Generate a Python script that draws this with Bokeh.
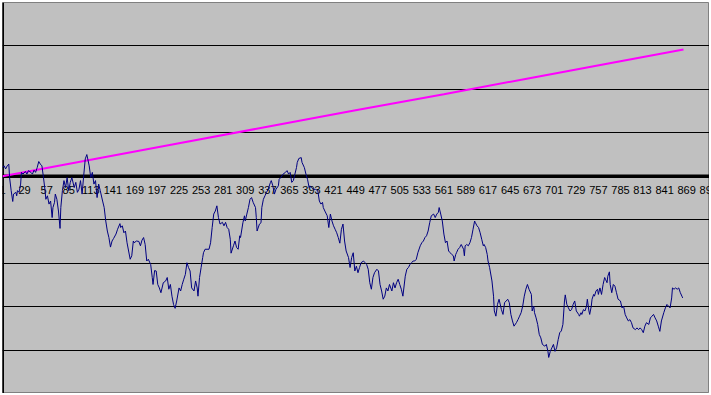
from bokeh.plotting import figure
from bokeh.models import Range1d, Span, FixedTicker
from bokeh.core.properties import value
from bokeh.embed import file_html
from bokeh.resources import INLINE

# Category axis tick labels (every 28th category)
tick_labels = ["1", "29", "57", "85", "113", "141", "169", "197", "225", "253", "281",
               "309", "337", "365", "393", "421", "449", "477", "505", "533", "561",
               "589", "617", "645", "673", "701", "729", "757", "785", "813", "841",
               "869", "897"]

# Magenta series (category index, value)
magenta_idx = [1, 113, 225, 337, 449, 561, 673, 785, 865]
magenta_val = [0.00, 0.38, 0.76, 1.14, 1.52, 1.89, 2.27, 2.65, 2.92]

# Navy series (category index, value)
navy_idx = [
    1, 3, 5, 7, 9, 10, 12, 14, 15, 18, 19, 20, 22, 24, 25, 27, 30, 32, 34, 37,
    39, 41, 43, 45, 47, 49, 51, 53, 55, 56, 58, 60, 62, 64, 65, 67, 68, 70, 72, 74,
    75, 77, 79, 81, 83, 85, 87, 89, 92, 94, 96, 98, 100, 102, 104, 106, 108, 111, 113, 115,
    117, 119, 121, 123, 125, 128, 130, 132, 134, 136, 138, 140, 142, 145, 147, 150, 151, 153, 155, 157,
    159, 161, 163, 165, 167, 168, 171, 174, 176, 178, 180, 182, 184, 186, 189, 191, 192, 194, 196, 198,
    200, 202, 205, 208, 210, 212, 214, 216, 218, 220, 222, 225, 227, 229, 231, 233, 235, 237, 239, 241,
    244, 246, 248, 249, 251, 253, 255, 256, 258, 263, 265, 267, 269, 271, 273, 275, 277, 280, 282, 284,
    286, 288, 290, 291, 294, 296, 298, 300, 302, 303, 306, 308, 309, 311, 313, 315, 317, 319, 322, 323,
    324, 327, 329, 330, 332, 334, 336, 338, 341, 342, 344, 346, 348, 351, 352, 354, 357, 360, 362, 364,
    366, 368, 370, 372, 374, 375, 377, 380, 381, 384, 386, 388, 390, 391, 393, 396, 398, 401, 403, 405,
    407, 408, 410, 413, 415, 417, 419, 421, 423, 425, 427, 429, 431, 433, 435, 437, 440, 442, 444, 446,
    448, 450, 452, 454, 456, 459, 461, 463, 465, 467, 469, 471, 473, 476, 478, 480, 482, 484, 486, 488,
    490, 492, 495, 497, 499, 501, 503, 505, 507, 509, 512, 514, 516, 518, 520, 522, 524, 526, 528, 531,
    533, 535, 537, 539, 541, 543, 545, 548, 550, 552, 554, 555, 557, 559, 561, 563, 565, 567, 569, 571,
    573, 574, 576, 577, 579, 581, 583, 586, 587, 588, 590, 592, 594, 596, 598, 600, 601, 603, 605, 607,
    609, 611, 612, 614, 616, 617, 619, 622, 624, 625, 627, 629, 631, 634, 636, 638, 640, 642, 644, 646,
    648, 650, 653, 655, 657, 659, 661, 663, 665, 667, 669, 672, 673, 675, 676, 678, 680, 682, 684, 686,
    689, 691, 693, 694, 696, 698, 700, 702, 704, 706, 708, 710, 712, 714, 715, 717, 719, 721, 723, 725,
    727, 729, 732, 733, 735, 736, 738, 740, 742, 743, 745, 746, 748, 749, 751, 752, 754, 756, 757, 759,
    761, 763, 765, 766, 768, 769, 771, 772, 774, 776, 778, 780, 782, 785, 787, 789, 791, 793, 795, 797,
    799, 801, 804, 806, 808, 810, 812, 814, 816, 818, 821, 823, 825, 827, 829, 831, 833, 835, 837, 840,
    842, 844, 846, 848, 850, 851, 853, 855, 857, 859, 861, 863, 864]
navy_val = [
    0.20, 0.24, 0.17, 0.24, 0.28, -0.03, -0.33, -0.58, -0.41, -0.37, -0.45, -0.33, -0.37, -0.18, 0.09, 0.05, 0.11, 0.05, 0.13, 0.09,
    0.05, 0.14, 0.09, 0.20, 0.34, 0.28, 0.24, -0.03, -0.33, -0.53, -0.45, -0.64, -0.57, -0.95, -0.72, -0.60, -0.41, -0.53, -0.80, -1.20,
    -0.72, -0.33, -0.10, -0.26, -0.03, -0.33, -0.14, -0.03, -0.26, -0.14, -0.37, -0.30, -0.10, -0.41, 0.01, 0.40, 0.50, 0.24, -0.03, 0.09,
    -0.18, -0.10, -0.49, -0.18, -0.33, -0.57, -0.72, -1.03, -1.26, -1.41, -1.63, -1.49, -1.43, -1.33, -1.22, -1.09, -1.18, -1.14, -1.30, -1.26,
    -1.53, -1.72, -1.91, -1.83, -1.49, -1.53, -1.49, -1.50, -1.60, -1.47, -1.41, -1.57, -1.95, -1.91, -2.03, -2.33, -2.49, -2.17, -2.18, -2.49,
    -2.57, -2.68, -2.45, -2.41, -2.33, -2.60, -2.49, -2.76, -2.95, -3.04, -2.87, -2.57, -2.64, -2.49, -2.37, -2.26, -1.99, -2.10, -2.18, -2.57,
    -2.64, -2.41, -2.57, -2.76, -2.33, -2.10, -1.87, -1.76, -1.68, -1.68, -1.53, -1.18, -0.87, -0.80, -0.68, -0.95, -1.10, -1.06, -1.14, -1.06,
    -1.18, -1.22, -1.45, -1.77, -1.60, -1.49, -1.64, -1.68, -1.37, -1.41, -1.07, -0.91, -1.03, -0.87, -0.72, -0.53, -0.49, -0.60, -0.72, -0.95,
    -1.26, -1.10, -1.07, -0.72, -0.53, -0.45, -0.37, -0.30, -0.14, -0.10, -0.22, -0.41, -0.30, -0.22, -0.07, -0.03, 0.05, 0.09, 0.13, 0.05,
    0.09, -0.14, -0.10, 0.05, 0.20, 0.32, 0.41, 0.43, 0.32, 0.20, 0.05, -0.07, -0.26, -0.22, -0.26, -0.30, -0.30, -0.33, -0.57, -0.64,
    -0.60, -0.72, -0.80, -0.91, -1.18, -0.87, -1.03, -1.14, -1.22, -1.30, -1.41, -1.54, -1.22, -1.10, -1.49, -1.72, -1.87, -2.10, -1.87, -1.76,
    -2.18, -2.07, -2.22, -2.10, -1.99, -1.95, -1.99, -2.03, -2.14, -2.45, -2.60, -2.33, -2.22, -2.14, -2.18, -2.49, -2.64, -2.83, -2.76, -2.57,
    -2.64, -2.49, -2.64, -2.45, -2.57, -2.45, -2.37, -2.49, -2.60, -2.76, -2.30, -2.14, -2.10, -2.03, -1.99, -1.95, -1.95, -1.91, -1.76, -1.60,
    -1.53, -1.49, -1.41, -1.37, -1.26, -1.07, -0.91, -0.87, -0.95, -0.87, -0.83, -0.72, -0.87, -1.03, -1.33, -1.53, -1.49, -1.72, -1.76, -1.80,
    -1.83, -1.95, -1.80, -1.76, -1.68, -1.64, -1.57, -1.68, -1.83, -1.60, -1.57, -1.60, -1.53, -1.41, -1.22, -1.03, -1.07, -1.14, -1.18, -1.30,
    -1.45, -1.60, -1.57, -1.64, -1.80, -1.95, -2.10, -2.41, -2.76, -3.10, -3.22, -2.95, -2.83, -3.07, -3.18, -2.91, -2.87, -2.83, -2.91, -3.18,
    -3.33, -3.45, -3.37, -3.30, -3.22, -3.14, -2.99, -2.76, -2.60, -2.49, -2.60, -2.72, -3.10, -2.99, -3.14, -3.26, -3.41, -3.64, -3.72, -3.87,
    -3.91, -3.87, -4.03, -4.17, -4.03, -3.95, -3.87, -4.03, -3.95, -3.76, -3.60, -3.56, -3.41, -2.87, -2.73, -2.95, -3.03, -3.10, -3.07, -2.95,
    -2.87, -3.10, -3.18, -3.22, -3.14, -3.18, -3.07, -3.10, -2.99, -2.83, -3.10, -3.18, -2.99, -2.83, -2.72, -2.76, -2.64, -2.60, -2.72, -2.57,
    -2.72, -2.49, -2.33, -2.37, -2.45, -2.30, -2.20, -2.49, -2.68, -2.49, -2.53, -2.68, -2.83, -2.87, -3.03, -2.99, -3.18, -3.26, -3.33, -3.30,
    -3.37, -3.49, -3.53, -3.49, -3.53, -3.49, -3.53, -3.60, -3.45, -3.37, -3.41, -3.26, -3.22, -3.18, -3.26, -3.33, -3.45, -3.57, -3.33, -3.14,
    -3.03, -2.95, -2.99, -3.03, -2.80, -2.57, -2.60, -2.57, -2.60, -2.57, -2.68, -2.76, -2.80]

grid_levels = [-4, -3, -2, -1, 1, 2, 3]

p = figure(width=709, height=393, output_backend="svg", toolbar_location=None,
           x_range=Range1d(1, 898), y_range=Range1d(-5, 4), min_border=0,
           min_border_left=2, min_border_top=2,
           background_fill_color="#C0C0C0", border_fill_color="white",
           outline_line_color="#808080", outline_line_width=1)
p.xaxis.visible = False
p.yaxis.visible = False
p.xgrid.visible = False
p.ygrid.ticker = FixedTicker(ticks=grid_levels)
p.ygrid.grid_line_color = "black"
p.ygrid.grid_line_width = 1
p.ygrid.grid_line_alpha = 1.0

p.add_layout(Span(location=0, dimension="width", line_color="black",
                  line_width=3.5, level="underlay"))
p.add_layout(Span(location=1, dimension="height", line_color="black",
                  line_width=3, level="underlay"))

tick_pos = [int(s) for s in tick_labels]
p.text(x=tick_pos, y=[0] * len(tick_pos), text=tick_labels,
       text_font=value("Liberation Sans"), text_font_size="11px",
       text_align="center", text_baseline="top", y_offset=10, text_color="black")

p.line(magenta_idx, magenta_val, line_color="#FF00FF", line_width=2)
p.line(navy_idx, navy_val, line_color="#000080", line_width=1)

open("out.html", "w").write(file_html(p, INLINE))
